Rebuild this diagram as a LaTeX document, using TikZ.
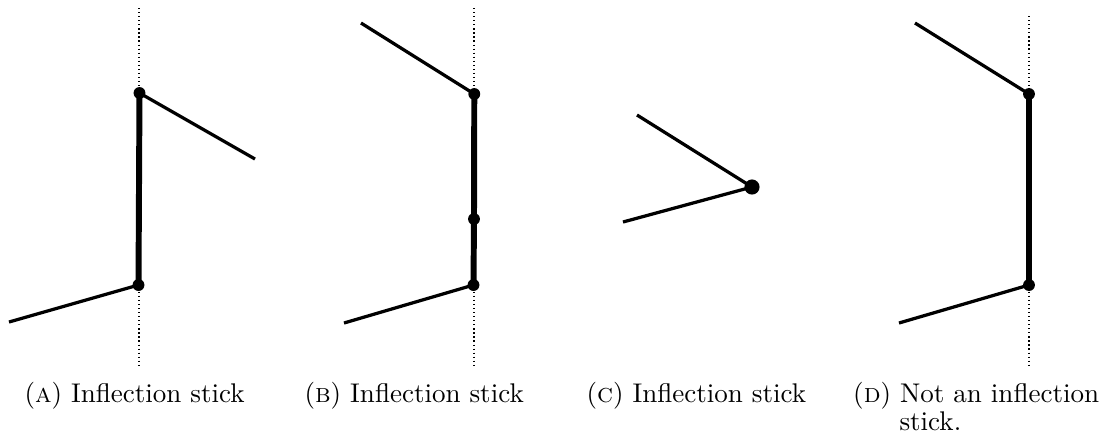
\documentclass[tikz,border=0pt]{standalone}
\tikzset{
  guide/.style={line width=0.4pt, dash pattern=on 0.45pt off 1.05pt},
  stickline/.style={line width=1.2pt},
  thickbar/.style={line width=2.2pt},
  caplabel/.style={anchor=base west, inner sep=0pt}
}
\begin{document}
\begin{tikzpicture}[x=0.37pt, y=-0.37pt]
  \useasboundingbox (0,0) rectangle (1099,436);
  % (a)
  \coordinate (a-top) at (139.5,93); \coordinate (a-bot) at (138.5,285);
  \coordinate (a-r) at (255,159); \coordinate (a-l) at (9,322);
  \coordinate (a-g1) at (139,8); \coordinate (a-g2) at (139,368);
  \draw[guide] (a-g1) -- (a-g2);
  \draw[thickbar] (a-top) -- (a-bot);
  \draw[stickline] (a-top) -- (a-r);
  \draw[stickline] (a-bot) -- (a-l);
  \foreach \p in {a-top,a-bot} \fill (\p) circle (2.2pt);
  % (b)
  \coordinate (b-top) at (474.3,94); \coordinate (b-mid) at (474,219);
  \coordinate (b-bot) at (473.5,285);
  \coordinate (b-ul) at (361,23); \coordinate (b-ll) at (344,323);
  \coordinate (b-g1) at (474,8); \coordinate (b-g2) at (474,368);
  \draw[guide] (b-g1) -- (b-g2);
  \draw[thickbar] (b-top) -- (b-mid) -- (b-bot);
  \draw[stickline] (b-top) -- (b-ul);
  \draw[stickline] (b-bot) -- (b-ll);
  \foreach \p in {b-top,b-mid,b-bot} \fill (\p) circle (2.2pt);
  % (c)
  \coordinate (c-pt) at (752,187);
  \coordinate (c-u) at (637,115); \coordinate (c-l) at (623,222);
  \draw[stickline] (c-u) -- (c-pt) -- (c-l);
  \fill (c-pt) circle (2.8pt);
  % (d)
  \coordinate (d-top) at (1029,94); \coordinate (d-bot) at (1029,285);
  \coordinate (d-ul) at (915,23); \coordinate (d-ll) at (899,323);
  \coordinate (d-g1) at (1029,16); \coordinate (d-g2) at (1029,368);
  \draw[guide] (d-g1) -- (d-g2);
  \draw[thickbar] (d-top) -- (d-bot);
  \draw[stickline] (d-top) -- (d-ul);
  \draw[stickline] (d-bot) -- (d-ll);
  \foreach \p in {d-top,d-bot} \fill (\p) circle (2.2pt);
  % captions
  \node[caplabel] (cap-a) at (24,402) {(\textsc{a}) Inflection stick};
  \node[caplabel] (cap-b) at (304,402) {(\textsc{b}) Inflection stick};
  \node[caplabel] (cap-c) at (586,402) {(\textsc{c}) Inflection stick};
  \node[caplabel] (cap-d) at (852.7,402) {(\textsc{d}) Not an inflection};
  \node[caplabel] (cap-d2) at (899,430) {stick.};
\end{tikzpicture}
\end{document}
